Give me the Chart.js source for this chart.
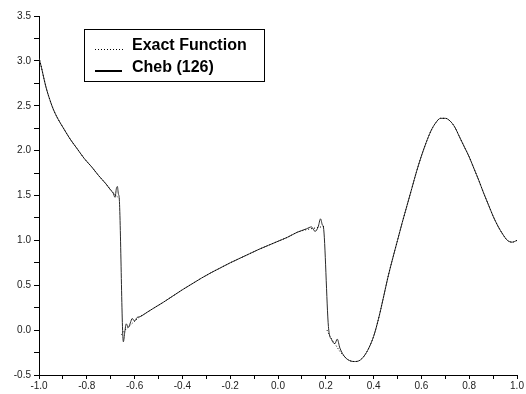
<!DOCTYPE html>
<html>
<head>
<meta charset="utf-8">
<title>Exact Function vs Cheb (126)</title>
<script src="https://cdn.jsdelivr.net/npm/chart.js@4.4.1/dist/chart.umd.min.js"></script>
<style>
  html, body { margin: 0; padding: 0; background: #fff; }
  #wrap { width: 526px; height: 394px; }
</style>
</head>
<body>
<div id="wrap"><canvas id="chart" width="526" height="394"></canvas></div>
<script>
// Exact function (null = break at the jumps)
const exactX = [
  -1.00, -0.99, -0.98, -0.97, -0.96, -0.94, -0.92, -0.90, -0.87, -0.84, -0.81, -0.78, -0.75, -0.72, -0.69, -0.665,
  -0.66,
  -0.655, -0.64, -0.62, -0.60, -0.58, -0.55, -0.52, -0.48, -0.44, -0.40, -0.36, -0.32, -0.28, -0.24, -0.20,
  -0.16, -0.12, -0.08, -0.04, 0.00, 0.04, 0.08, 0.12, 0.16, 0.20,
  0.203,
  0.205, 0.22, 0.24, 0.26, 0.28, 0.30, 0.32, 0.34, 0.36, 0.38, 0.40, 0.42, 0.44, 0.46, 0.48, 0.50,
  0.52, 0.54, 0.56, 0.58, 0.60, 0.62, 0.64, 0.66, 0.68, 0.70, 0.72, 0.74, 0.76, 0.78, 0.80, 0.82,
  0.84, 0.86, 0.88, 0.90, 0.92, 0.94, 0.96, 0.98, 1.00
];
const exactY = [
  3.04, 2.93, 2.81, 2.70, 2.61, 2.46, 2.35, 2.26, 2.13, 2.02, 1.91, 1.82, 1.72, 1.63, 1.53, 1.47,
  null,
  -0.05, 0.00, 0.05, 0.10, 0.145, 0.195, 0.245, 0.31, 0.38, 0.45, 0.515, 0.58, 0.64, 0.695, 0.75,
  0.80, 0.85, 0.90, 0.945, 0.99, 1.035, 1.09, 1.12, 1.14, 1.16,
  null,
  0.00, -0.08, -0.16, -0.24, -0.30, -0.34, -0.35, -0.34, -0.29, -0.20, -0.07, 0.12, 0.35, 0.59, 0.80, 1.00,
  1.20, 1.39, 1.58, 1.77, 1.94, 2.09, 2.22, 2.31, 2.36, 2.36, 2.33, 2.26, 2.15, 2.04, 1.93, 1.80,
  1.67, 1.53, 1.40, 1.27, 1.16, 1.07, 1.00, 0.98, 1.00
];

// Chebyshev approximation, 126 terms
const chebX = [
  -1.00, -0.99, -0.98, -0.97, -0.96, -0.94, -0.92, -0.90, -0.87, -0.84, -0.81, -0.78, -0.75, -0.72, -0.70,
  -0.69, -0.682, -0.676, -0.672, -0.668, -0.664, -0.647, -0.641, -0.635, -0.626, -0.618, -0.610, -0.600,
  -0.590, -0.577, -0.55, -0.52, -0.48, -0.44, -0.40, -0.36, -0.32, -0.28, -0.24, -0.20, -0.16, -0.12,
  -0.08, -0.04, 0.00, 0.04, 0.08, 0.10, 0.12, 0.14, 0.155, 0.168, 0.178, 0.186, 0.190, 0.211, 0.225,
  0.238, 0.248, 0.259, 0.28, 0.30, 0.32, 0.34, 0.36, 0.38, 0.40, 0.42, 0.44, 0.46, 0.48, 0.50,
  0.52, 0.54, 0.56, 0.58, 0.60, 0.62, 0.64, 0.66, 0.68, 0.70, 0.72, 0.74, 0.76, 0.78, 0.80, 0.82,
  0.84, 0.86, 0.88, 0.90, 0.92, 0.94, 0.96, 0.98, 1.00
];
const chebY = [
  3.03, 2.93, 2.81, 2.70, 2.61, 2.46, 2.35, 2.26, 2.13, 2.02, 1.91, 1.82, 1.72, 1.63, 1.56,
  1.53, 1.48, 1.58, 1.60, 1.52, 1.46, -0.13, -0.02, 0.07, 0.03, 0.08, 0.13, 0.10,
  0.14, 0.15, 0.195, 0.245, 0.31, 0.38, 0.45, 0.515, 0.58, 0.64, 0.695, 0.75, 0.80, 0.85,
  0.90, 0.945, 0.99, 1.035, 1.09, 1.11, 1.13, 1.15, 1.10, 1.15, 1.24, 1.17, 1.15, 0.04, -0.11,
  -0.15, -0.10, -0.20, -0.30, -0.34, -0.35, -0.34, -0.29, -0.20, -0.07, 0.12, 0.35, 0.59, 0.80, 1.00,
  1.20, 1.39, 1.58, 1.77, 1.94, 2.09, 2.22, 2.31, 2.36, 2.36, 2.33, 2.26, 2.15, 2.04, 1.93, 1.80,
  1.67, 1.53, 1.40, 1.27, 1.16, 1.07, 1.00, 0.98, 1.00
];

const seriesLabels = ['Exact Function', 'Cheb (126)'];

// axis ranges and tick steps
const xRange = [-1.0, 1.0];
const yRange = [-0.5, 3.5];
const xMinorStep = 0.1, xMajorStep = 0.2;
const yMinorStep = 0.25, yMajorStep = 0.5;

function toPoints(xs, ys) {
  return xs.map((x, i) => ({ x: x, y: ys[i] }));
}

function majorLabel(step) {
  return function(value) {
    const k = value / step;
    if (Math.abs(k - Math.round(k)) < 1e-6) {
      return (Math.round(value * 10) / 10).toFixed(1);
    }
    return '';
  };
}

// legend box drawn inside the plot, top left
const boxLegend = {
  id: 'boxLegend',
  afterDraw(chart) {
    const ctx = chart.ctx;
    const ds = chart.data.datasets;
    ctx.save();
    ctx.fillStyle = '#fff';
    ctx.fillRect(84, 29, 180, 52);
    ctx.strokeStyle = '#000';
    ctx.lineWidth = 1;
    ctx.strokeRect(84.5, 29.5, 180, 52);

    // samples
    ctx.beginPath();
    ctx.setLineDash([1, 2]);
    ctx.moveTo(95, 49.5);
    ctx.lineTo(123, 49.5);
    ctx.stroke();
    ctx.setLineDash([]);
    ctx.lineWidth = 2;
    ctx.beginPath();
    ctx.moveTo(95, 71);
    ctx.lineTo(122, 71);
    ctx.stroke();

    ctx.fillStyle = '#000';
    ctx.font = 'bold 16px "Liberation Sans", Arial, sans-serif';
    ctx.textBaseline = 'alphabetic';
    ctx.fillText(ds[0].label, 132, 50);
    ctx.fillText(ds[1].label, 132, 72);
    ctx.restore();
  }
};

new Chart(document.getElementById('chart'), {
  type: 'scatter',
  data: {
    datasets: [
      {
        label: seriesLabels[0],
        data: toPoints(exactX, exactY),
        showLine: true,
        spanGaps: false,
        borderColor: '#000',
        borderWidth: 1,
        borderDash: [1, 2],
        pointRadius: 0,
        cubicInterpolationMode: 'monotone'
      },
      {
        label: seriesLabels[1],
        data: toPoints(chebX, chebY),
        showLine: true,
        borderColor: '#2a2a2a',
        borderWidth: 1,
        pointRadius: 0,
        cubicInterpolationMode: 'monotone'
      }
    ]
  },
  options: {
    responsive: false,
    animation: false,
    layout: { padding: { top: 16, right: 9, left: 0, bottom: 0 } },
    plugins: {
      legend: { display: false },
      tooltip: { enabled: false }
    },
    scales: {
      x: {
        type: 'linear',
        min: xRange[0],
        max: xRange[1],
        afterFit: s => { s.height = 19; },
        border: { display: true, color: '#000', width: 1 },
        grid: { drawOnChartArea: false, drawTicks: true, tickLength: 4, color: '#000' },
        ticks: {
          stepSize: xMinorStep,
          autoSkip: false,
          maxRotation: 0,
          padding: 1,
          color: '#222',
          font: { family: '"Liberation Sans", Arial, sans-serif', size: 10 },
          callback: majorLabel(xMajorStep)
        }
      },
      y: {
        type: 'linear',
        min: yRange[0],
        max: yRange[1],
        afterFit: s => { s.width = 39; },
        border: { display: true, color: '#000', width: 1 },
        grid: { drawOnChartArea: false, drawTicks: true, tickLength: 5, color: '#000' },
        ticks: {
          stepSize: yMinorStep,
          autoSkip: false,
          padding: 3,
          color: '#222',
          font: { family: '"Liberation Sans", Arial, sans-serif', size: 10 },
          callback: majorLabel(yMajorStep)
        }
      }
    }
  },
  plugins: [boxLegend]
});
</script>
</body>
</html>
